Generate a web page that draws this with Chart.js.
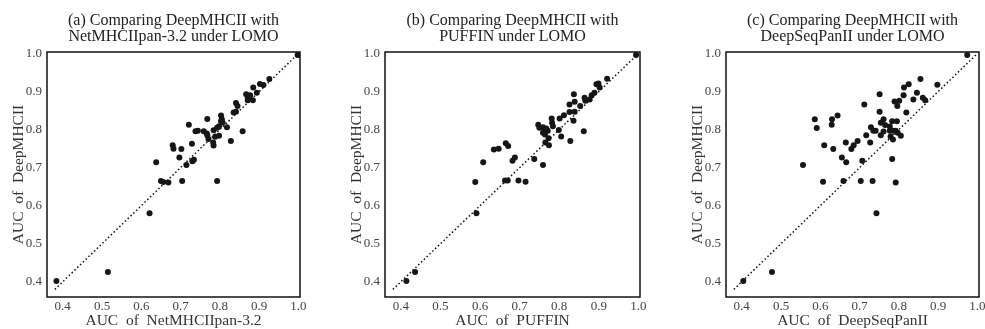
<!DOCTYPE html>
<html>
<head>
<meta charset="utf-8">
<script src="https://cdn.jsdelivr.net/npm/chart.js@4.4.1/dist/chart.umd.min.js"></script>
<style>
  html, body { margin: 0; padding: 0; background: #fff; overflow: hidden; width: 985px; height: 329px; }
  canvas { position: absolute; top: 0; }
</style>
</head>
<body>
<canvas id="panelA" width="330" height="329" style="left:0px"></canvas>
<canvas id="panelB" width="330" height="329" style="left:330px"></canvas>
<canvas id="panelC" width="340" height="329" style="left:660px"></canvas>
<script>
// AUC values (one point per MHC molecule left out)
const tickValues = [0.4, 0.5, 0.6, 0.7, 0.8, 0.9, 1.0];
const axisMin = 0.36;
const axisMax = 1.004;
const diagonal = [0.38, 1.0];

// (a) NetMHCIIpan-3.2 vs DeepMHCII
const netmhcAuc = [0.384, 0.515, 0.621, 0.638, 0.650, 0.656, 0.669, 0.704, 0.715, 0.697,
  0.702, 0.680, 0.682, 0.729, 0.730, 0.734, 0.721, 0.738, 0.744, 0.759,
  0.767, 0.768, 0.771, 0.768, 0.783, 0.784, 0.784, 0.788, 0.793, 0.798,
  0.798, 0.803, 0.805, 0.803, 0.807, 0.793, 0.818, 0.828, 0.835, 0.841,
  0.841, 0.845, 0.858, 0.867, 0.871, 0.877, 0.871, 0.885, 0.884, 0.894,
  0.902, 0.911, 0.926, 0.998];
const deepVsNetmhc = [0.402, 0.426, 0.580, 0.714, 0.665, 0.662, 0.661, 0.665, 0.707, 0.727,
  0.749, 0.759, 0.750, 0.763, 0.717, 0.721, 0.813, 0.796, 0.797, 0.796,
  0.790, 0.785, 0.775, 0.828, 0.766, 0.758, 0.798, 0.781, 0.805, 0.809,
  0.784, 0.822, 0.827, 0.837, 0.819, 0.665, 0.806, 0.770, 0.845, 0.847,
  0.870, 0.862, 0.796, 0.893, 0.883, 0.890, 0.877, 0.911, 0.877, 0.897,
  0.920, 0.917, 0.933, 0.996];

// (b) PUFFIN vs DeepMHCII
const puffinAuc = [0.414, 0.436, 0.591, 0.588, 0.608, 0.635, 0.647, 0.665, 0.671, 0.682,
  0.688, 0.663, 0.670, 0.697, 0.715, 0.737, 0.759, 0.747, 0.750, 0.759,
  0.759, 0.764, 0.767, 0.765, 0.771, 0.773, 0.774, 0.781, 0.782, 0.784,
  0.801, 0.799, 0.805, 0.812, 0.826, 0.826, 0.828, 0.837, 0.839, 0.839,
  0.836, 0.853, 0.862, 0.864, 0.866, 0.877, 0.882, 0.889, 0.894, 0.899,
  0.902, 0.921, 0.994];
const deepVsPuffin = [0.402, 0.426, 0.580, 0.662, 0.714, 0.748, 0.750, 0.764, 0.757, 0.718,
  0.727, 0.666, 0.666, 0.666, 0.663, 0.723, 0.707, 0.813, 0.805, 0.806,
  0.792, 0.787, 0.803, 0.766, 0.797, 0.777, 0.759, 0.829, 0.818, 0.809,
  0.829, 0.799, 0.782, 0.838, 0.866, 0.846, 0.770, 0.893, 0.873, 0.847,
  0.823, 0.862, 0.796, 0.884, 0.876, 0.879, 0.890, 0.897, 0.919, 0.921,
  0.911, 0.934, 0.996];

// (c) DeepSeqPanII vs DeepMHCII
const deepseqAuc = [0.404, 0.477, 0.556, 0.586, 0.591, 0.607, 0.610, 0.629, 0.630, 0.644,
  0.633, 0.655, 0.666, 0.659, 0.665, 0.679, 0.685, 0.695, 0.703, 0.707,
  0.712, 0.717, 0.727, 0.729, 0.733, 0.735, 0.741, 0.743, 0.751, 0.751,
  0.754, 0.754, 0.761, 0.761, 0.765, 0.777, 0.777, 0.779, 0.783, 0.783,
  0.785, 0.785, 0.789, 0.792, 0.795, 0.792, 0.796, 0.797, 0.801, 0.805,
  0.812, 0.813, 0.819, 0.825, 0.837, 0.846, 0.855, 0.861, 0.867, 0.898,
  0.974];
const deepVsDeepseq = [0.402, 0.426, 0.707, 0.827, 0.804, 0.663, 0.759, 0.813, 0.827, 0.837,
  0.749, 0.727, 0.714, 0.665, 0.766, 0.749, 0.759, 0.770, 0.665, 0.718,
  0.866, 0.785, 0.766, 0.806, 0.665, 0.797, 0.797, 0.580, 0.893, 0.847,
  0.818, 0.785, 0.827, 0.795, 0.812, 0.808, 0.797, 0.782, 0.822, 0.723,
  0.797, 0.774, 0.874, 0.797, 0.822, 0.661, 0.862, 0.792, 0.876, 0.784,
  0.890, 0.911, 0.845, 0.919, 0.879, 0.897, 0.933, 0.884, 0.877, 0.918,
  0.996];

const serif = "'Liberation Serif', 'DejaVu Serif', serif";

// draws the full box around the plot area
const frameBox = {
  id: "frameBox",
  afterDatasetsDraw(chart) {
    const a = chart.chartArea;
    const ctx = chart.ctx;
    ctx.save();
    ctx.strokeStyle = "#111";
    ctx.lineWidth = 1.5;
    ctx.strokeRect(a.left, a.top, a.right - a.left, a.bottom - a.top);
    ctx.restore();
  },
};

function makePanel(id, xs, ys, xTitle, titleLines, padLeft, padRight) {
  const points = xs.map((x, i) => ({ x: x, y: ys[i] }));
  const diagLine = diagonal.map((v) => ({ x: v, y: v }));

  return new Chart(document.getElementById(id), {
    type: "scatter",
    data: {
      datasets: [
        {
          data: diagLine,
          showLine: true,
          borderColor: "#111",
          borderWidth: 1.5,
          borderDash: [1.5, 2.4],
          pointRadius: 0,
        },
        {
          data: points,
          pointRadius: 3,
          pointBorderWidth: 0,
          backgroundColor: "#161616",
        },
      ],
    },
    plugins: [frameBox],
    options: {
      responsive: false,
      animation: false,
      devicePixelRatio: 1,
      layout: { padding: { left: padLeft, right: padRight, top: 0, bottom: 0 } },
      plugins: {
        legend: { display: false },
        tooltip: { enabled: false },
        title: {
          display: true,
          text: titleLines,
          fullSize: false,
          color: "#222",
          font: { family: serif, size: 16, weight: "normal", lineHeight: 1 },
          padding: { top: 13, bottom: 7 },
        },
      },
      scales: {
        x: {
          type: "linear",
          min: axisMin,
          max: axisMax,
          afterBuildTicks: (axis) => { axis.ticks = tickValues.map((v) => ({ value: v })); },
          afterFit: (axis) => { axis.height = 32; },
          grid: { display: false, drawTicks: false },
          border: { display: false },
          ticks: {
            padding: 2,
            color: "#444",
            font: { family: serif, size: 13 },
            autoSkip: false,
            maxRotation: 0,
            callback: (v) => v.toFixed(1),
          },
          title: {
            display: true,
            text: xTitle,
            color: "#333",
            font: { family: serif, size: 15.5, lineHeight: 1 },
            padding: { top: 0, bottom: 0 },
          },
        },
        y: {
          type: "linear",
          min: axisMin,
          max: axisMax,
          afterBuildTicks: (axis) => { axis.ticks = tickValues.map((v) => ({ value: v })); },
          afterFit: (axis) => { axis.width = 36; },
          grid: { display: false, drawTicks: false },
          border: { display: false },
          ticks: {
            padding: 5,
            color: "#444",
            font: { family: serif, size: 13 },
            autoSkip: false,
            callback: (v) => v.toFixed(1),
          },
          title: {
            display: true,
            text: "AUC  of  DeepMHCII",
            color: "#333",
            font: { family: serif, size: 15.5, lineHeight: 1 },
            padding: { top: 0, bottom: 0 },
          },
        },
      },
    },
  });
}

makePanel("panelA", netmhcAuc, deepVsNetmhc, "AUC  of  NetMHCIIpan-3.2",
  ["(a) Comparing DeepMHCII with", "NetMHCIIpan-3.2 under LOMO"], 11, 30);
makePanel("panelB", puffinAuc, deepVsPuffin, "AUC  of  PUFFIN",
  ["(b) Comparing DeepMHCII with", "PUFFIN under LOMO"], 19, 20);
makePanel("panelC", deepseqAuc, deepVsDeepseq, "AUC  of  DeepSeqPanII",
  ["(c) Comparing DeepMHCII with", "DeepSeqPanII under LOMO"], 30, 21);
</script>
</body>
</html>
